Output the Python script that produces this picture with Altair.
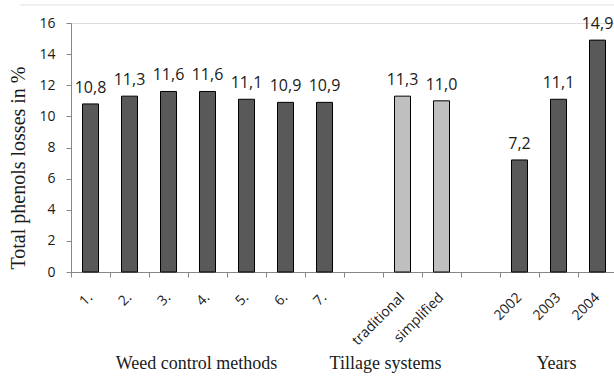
import altair as alt
import pandas as pd

categories = ["1.", "2.", "3.", "4.", "5.", "6.", "7.", "gap1",
              "traditional", "simplified", "gap2", "2002", "2003", "2004"]
bar_cats = ["1.", "2.", "3.", "4.", "5.", "6.", "7.",
            "traditional", "simplified", "2002", "2003", "2004"]
values = [10.8, 11.3, 11.6, 11.6, 11.1, 10.9, 10.9, 11.3, 11.0, 7.2, 11.1, 14.9]
groups = ["weed"] * 7 + ["tillage"] * 2 + ["years"] * 3
group_titles = ["Weed control methods", "Tillage systems", "Years"]
group_anchor = ["4.", "traditional", "2003"]
group_shift = [-11, -17, -2]
y_title = "Total phenols losses in %"

df = pd.DataFrame({
    "cat": bar_cats,
    "value": values,
    "group": groups,
    "label": [f"{v:.1f}".replace(".", ",") for v in values],
})

W, H = 543, 249
serif = "Liberation Serif"
sans = "Open Sans"
axis_gray = "#868686"

xscale = alt.Scale(domain=categories, range=[0, 546], paddingInner=0, paddingOuter=0)
yscale = alt.Scale(domain=[0, 16], nice=False)

x_enc = alt.X("cat:N", scale=xscale, sort=categories, title=None,
              axis=alt.Axis(labelAngle=-45, labelAlign="right", labelBaseline="middle",
                            labelPadding=18, tickSize=5, bandPosition=0,
                            domainColor=axis_gray, tickColor=axis_gray,
                            labelFont=sans, labelFontSize=14, labelColor="#1a1a1a",
                            labelOverlap=False,
                            labelExpr="indexof(datum.value, 'gap') == 0 ? '' : datum.value"))

y_enc = alt.Y("value:Q", scale=yscale, title=None,
              axis=alt.Axis(values=list(range(0, 17, 2)), grid=False, tickSize=5,
                            labelPadding=11, domainColor=axis_gray, tickColor=axis_gray,
                            labelFont=sans, labelFontSize=14, labelColor="#1a1a1a",
                            labelOverlap=False))

base = alt.Chart(df)

bars = base.mark_bar(size=16, stroke="black", strokeWidth=1).encode(
    x=x_enc,
    y=y_enc,
    color=alt.Color("group:N", legend=None,
                    scale=alt.Scale(domain=["weed", "tillage", "years"],
                                    range=["#595959", "#bfbfbf", "#595959"])),
)

texts = base.mark_text(baseline="alphabetic", dy=-11, font=sans, fontSize=16,
                       color="#1a1a1a").encode(
    x=x_enc,
    y=y_enc,
    text="label:N",
)

layers = [bars, texts]
for t, a, s in zip(group_titles, group_anchor, group_shift):
    gdf = pd.DataFrame({"cat": [a], "t": [t]})
    layers.append(
        alt.Chart(gdf).mark_text(font=serif, fontSize=18, color="#1a1a1a",
                                 baseline="middle", align="center", dx=s).encode(
            x=x_enc,
            y=alt.value(H + 92),
            text="t:N",
        )
    )

title_layer = alt.Chart(pd.DataFrame({"t": [y_title]})).mark_text(
    font=serif, fontSize=20, color="#1a1a1a", angle=270,
    baseline="middle", align="center").encode(
    x=alt.value(-52), y=alt.value(145), text="t:N"
)
layers.append(title_layer)

top_line = alt.Chart(pd.DataFrame({"a": [0]})).mark_rule(color="#e0e0e0", strokeWidth=1).encode(
    x=alt.value(-51), x2=alt.value(W), y=alt.value(-18)
)
layers.append(top_line)

chart = alt.layer(*layers).properties(
    width=W, height=H,
    autosize=alt.AutoSizeParams(type="none"),
    padding={"left": 71, "top": 23, "right": 0, "bottom": 104},
).configure_view(stroke=None).configure(background="white")

chart.save("out.html", embed_options={"renderer": "svg", "actions": False})
